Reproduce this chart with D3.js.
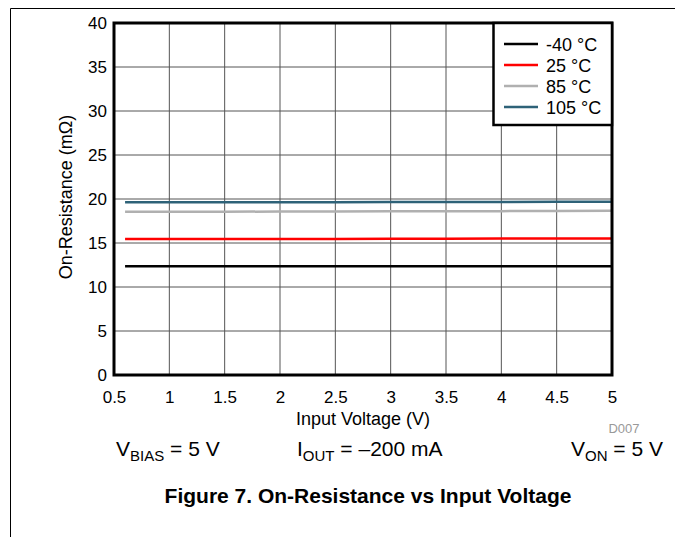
<!DOCTYPE html>
<html><head><meta charset="utf-8">
<script src="https://cdn.jsdelivr.net/npm/d3@7"></script>
<style>body{margin:0;background:#fff}svg{display:block;font-family:"Liberation Sans",Arial,sans-serif}</style>
</head><body><svg id="c" width="675" height="537"></svg>
<script>
const xTicks = [0.5,1,1.5,2,2.5,3,3.5,4,4.5,5];
const yTicks = [0,5,10,15,20,25,30,35,40];
const voltages = [0.6,1,1.5,2,2.5,3,3.5,4,4.5,5];
const seriesNames = ["-40 °C","25 °C","85 °C","105 °C"];
const seriesColors = ["#000000","#ff0000","#b0b0b0","#2e6278"];
const rM40 = [12.35,12.35,12.35,12.35,12.35,12.35,12.35,12.35,12.35,12.35];
const r25  = [15.45,15.45,15.45,15.45,15.46,15.47,15.48,15.5,15.5,15.52];
const r85  = [18.55,18.55,18.56,18.57,18.58,18.6,18.61,18.62,18.64,18.66];
const r105 = [19.62,19.62,19.63,19.63,19.64,19.65,19.66,19.67,19.68,19.7];
const seriesValues = [rM40, r25, r85, r105];

const svg = d3.select("#c");
const L=114, R=612, T=23, B=375;
const x = d3.scaleLinear().domain([0.5,5]).range([L,R]);
const y = d3.scaleLinear().domain([0,40]).range([B,T]);

// outer figure border
svg.append("path").attr("d","M10.5,537 V8.5 H675").attr("fill","none").attr("stroke","#000").attr("stroke-width",1);

// grid
svg.append("g").selectAll("line").data(xTicks.slice(1,-1)).join("line")
  .attr("x1",d=>x(d)).attr("x2",d=>x(d)).attr("y1",T).attr("y2",B)
  .attr("stroke","#555").attr("stroke-width",1);
svg.append("g").selectAll("line").data(yTicks.slice(1,-1)).join("line")
  .attr("x1",L).attr("x2",R).attr("y1",d=>y(d)).attr("y2",d=>y(d))
  .attr("stroke","#555").attr("stroke-width",1);

// series
const line = d3.line().x((d,i)=>x(voltages[i])).y(d=>y(d));
seriesValues.forEach((vals,k)=>{
  svg.append("path").datum(vals).attr("d",line).attr("fill","none")
    .attr("stroke",seriesColors[k]).attr("stroke-width",2.5);
});

// frame
svg.append("rect").attr("x",L).attr("y",T).attr("width",R-L).attr("height",B-T)
  .attr("fill","none").attr("stroke","#000").attr("stroke-width",3);

// axes tick labels
const FF = "Liberation Sans, Arial, sans-serif";
const xa = svg.append("g").attr("transform",`translate(0,${B+15})`)
  .call(d3.axisBottom(x).tickValues(xTicks).tickSize(0).tickPadding(0).tickFormat(d3.format("")));
xa.select(".domain").remove();
xa.selectAll("text").attr("font-size",17).attr("fill","#000").attr("font-family",FF).attr("dy","0.75em");
const ya = svg.append("g").attr("transform",`translate(${L-7},0)`)
  .call(d3.axisLeft(y).tickValues(yTicks).tickSize(0).tickPadding(0));
ya.select(".domain").remove();
ya.selectAll("text").attr("font-size",17).attr("fill","#000").attr("font-family",FF);

// axis titles
svg.append("text").attr("x",363).attr("y",425).attr("text-anchor","middle").attr("font-size",18).text("Input Voltage (V)");
svg.append("text").attr("transform",`translate(72,197) rotate(-90)`).attr("text-anchor","middle").attr("font-size",18).text("On-Resistance (mΩ)");

// legend
const lg = svg.append("g");
lg.append("rect").attr("x",493.5).attr("y",T).attr("width",R-493.5).attr("height",102)
  .attr("fill","#fff").attr("stroke","#000").attr("stroke-width",2.5);
seriesNames.forEach((n,i)=>{
  const yy = 44 + i*21;
  lg.append("line").attr("x1",504).attr("x2",538).attr("y1",yy).attr("y2",yy).attr("stroke",seriesColors[i]).attr("stroke-width",2.5);
  lg.append("text").attr("x",546).attr("y",yy+7).attr("font-size",18).text(n);
});

// D007
svg.append("text").attr("x",624).attr("y",433).attr("text-anchor","middle").attr("font-size",13).attr("fill","#999").text("D007");

// conditions
function cond(xp, main, sub, rest){
  const t = svg.append("text").attr("x",xp).attr("y",456).attr("font-size",21);
  t.append("tspan").text(main);
  t.append("tspan").attr("font-size",15).attr("dy",5).text(sub);
  t.append("tspan").attr("dy",-5).text(rest);
}
cond(116,"V","BIAS"," = 5 V");
cond(297,"I","OUT"," = –200 mA");
cond(571,"V","ON"," = 5 V");

// title
svg.append("text").attr("x",368).attr("y",503).attr("text-anchor","middle").attr("font-size",21).attr("font-weight","bold").text("Figure 7. On-Resistance vs Input Voltage");
</script></body></html>
